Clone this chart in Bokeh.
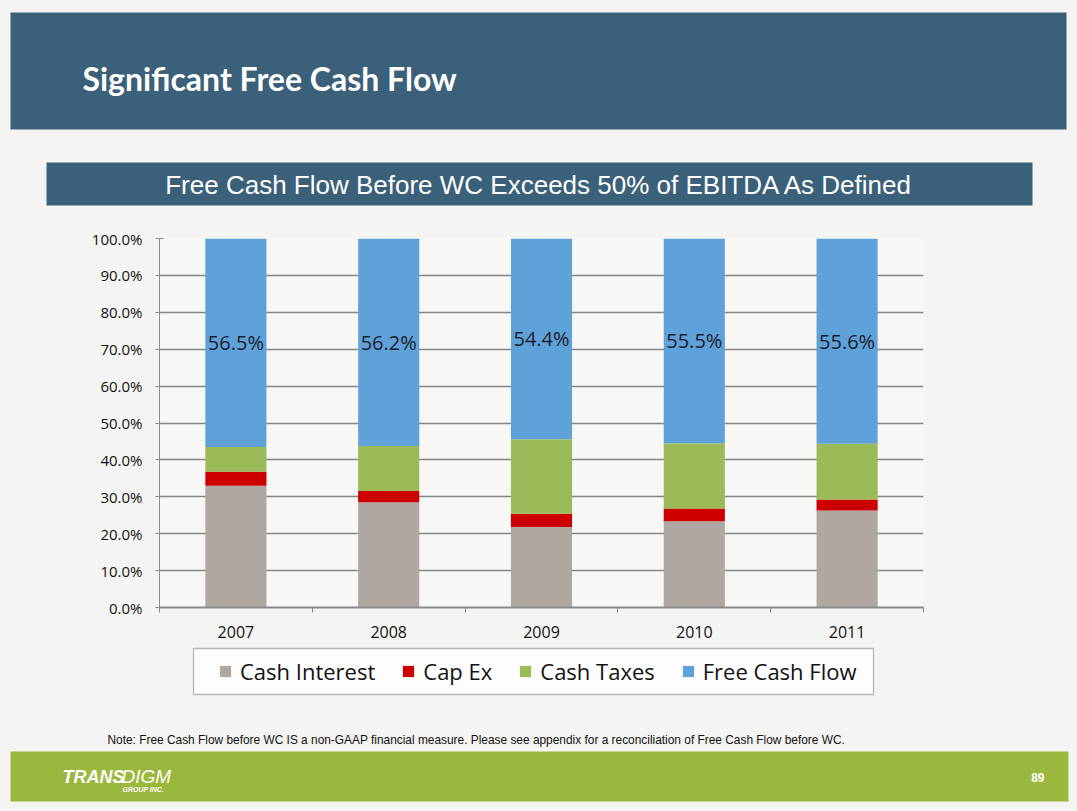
from bokeh.plotting import figure
from bokeh.layouts import column, row
from bokeh.models import (Range1d, FixedTicker, PrintfTickFormatter, BoxAnnotation,
                          Label, Legend, LegendItem, ColumnDataSource, LabelSet)
from bokeh.embed import file_html
from bokeh.resources import INLINE
from bokeh.core.properties import value

# ---------------- data ----------------
years = ["2007", "2008", "2009", "2010", "2011"]
cash_interest = [33.0, 28.5, 21.8, 23.4, 26.3]
cap_ex = [3.8, 3.1, 3.6, 3.4, 3.0]
cash_taxes = [6.7, 12.2, 20.2, 17.7, 15.1]
free_cash_flow = [56.5, 56.2, 54.4, 55.5, 55.6]
series_names = ["Cash Interest", "Cap Ex", "Cash Taxes", "Free Cash Flow"]
y_ticks = [0, 10, 20, 30, 40, 50, 60, 70, 80, 90, 100]

title_text = "Significant Free Cash Flow"
subtitle_text = "Free Cash Flow Before WC Exceeds 50% of EBITDA As Defined"
note_text = ("Note:  Free Cash Flow before WC IS a non-GAAP financial measure. "
             "Please see appendix for a reconciliation of Free Cash Flow before WC.")
page_number = "89"

# ---------------- styles ----------------
colors = ["#afa7a2", "#cc0000", "#9bbb59", "#5fa2da"]
BG = "#f4f4f2"
BANNER = "#3b6079"
GREEN = "#9bb83e"
W, H = 1077, 811
HEAD_H, CHART_H = 218, 425
FOOT_TOP = HEAD_H + CHART_H
FOOT_H = H - FOOT_TOP


def deco_figure(y0, h):
    f = figure(width=W, height=h, x_range=Range1d(0, W), y_range=Range1d(y0 + h, y0),
               output_backend="svg", toolbar_location=None,
               x_axis_location=None, y_axis_location=None,
               min_border=0, min_border_left=0, min_border_right=0,
               min_border_top=0, min_border_bottom=0)
    f.background_fill_color = BG
    f.border_fill_color = BG
    f.outline_line_color = None
    f.grid.visible = False
    return f


def box(f, l, r, t, b, color, line=None):
    f.add_layout(BoxAnnotation(left=l, right=r, top=t, bottom=b, fill_color=color,
                               fill_alpha=1, line_color=line, line_width=1.3,
                               level="underlay"))


def label(f, x, y, text, font, size, color, style="normal", align="left"):
    f.add_layout(Label(x=x, y=y, text=text, text_font=font, text_font_size=size,
                       text_font_style=style, text_color=color, text_baseline="middle",
                       text_align=align))


# ---------------- header ----------------
head = deco_figure(0, HEAD_H)
box(head, 10, 1066, 12, 129, BANNER)
box(head, 46, 1032, 162, 205, BANNER)
label(head, 82, 78, title_text, "Lato", "32px", "white", "bold")
label(head, 539, 184, subtitle_text, "Liberation Sans", "26px", "white", align="center")

# ---------------- chart ----------------
x_pos = [i + 0.5 for i in range(len(years))]
src = ColumnDataSource(dict(x=x_pos, interest=cash_interest, capex=cap_ex,
                            taxes=cash_taxes, fcf=free_cash_flow))
lab_y = [a + b + c + d / 2 for a, b, c, d in zip(cash_interest, cap_ex, cash_taxes, free_cash_flow)]
lab_src = ColumnDataSource(dict(x=x_pos, y=lab_y, t=["%.1f%%" % v for v in free_cash_flow]))

p = figure(width=W, height=CHART_H, x_range=Range1d(0, len(years)), y_range=Range1d(0, 100),
           output_backend="svg", toolbar_location=None,
           min_border_left=159, min_border_right=W - 923, min_border_top=20, min_border_bottom=36)
p.background_fill_color = "#f7f7f6"
p.border_fill_color = BG
p.outline_line_color = None

rs = p.vbar_stack(["interest", "capex", "taxes", "fcf"], x="x", width=0.4, source=src,
                  color=colors, line_color=None)
p.add_layout(LabelSet(x="x", y="y", text="t", source=lab_src, text_align="center",
                      text_baseline="middle", text_font=value("Open Sans"),
                      text_font_size="20px", text_color="#1c1c2c"))

p.yaxis.ticker = FixedTicker(ticks=y_ticks)
p.yaxis.formatter = PrintfTickFormatter(format="%.1f%%")
p.yaxis.axis_line_color = "#8a8a8a"
p.yaxis.major_tick_line_color = "#8a8a8a"
p.yaxis.major_tick_in = 4
p.yaxis.major_tick_out = 4
p.yaxis.minor_tick_line_color = None
p.yaxis.major_label_text_font = "Open Sans"
p.yaxis.major_label_text_font_size = "15px"
p.yaxis.major_label_text_color = "#111111"
p.yaxis.major_label_standoff = 13

p.xaxis.ticker = FixedTicker(ticks=x_pos, minor_ticks=list(range(len(years) + 1)))
p.xaxis.major_label_overrides = {v: y for v, y in zip(x_pos, years)}
p.xaxis.axis_line_color = "#8a8a8a"
p.xaxis.axis_line_width = 2
p.xaxis.major_tick_line_color = None
p.xaxis.major_tick_out = 0
p.xaxis.major_tick_in = 0
p.xaxis.minor_tick_line_color = "#8a8a8a"
p.xaxis.minor_tick_out = 5
p.xaxis.minor_tick_in = 0
p.xaxis.major_label_text_font = "Open Sans"
p.xaxis.major_label_text_font_size = "16px"
p.xaxis.major_label_text_color = "#111111"
p.xaxis.major_label_standoff = 13

p.xgrid.grid_line_color = None
p.ygrid.ticker = FixedTicker(ticks=y_ticks)
p.ygrid.grid_line_color = "#858585"
p.ygrid.grid_line_width = 1.5

# ---------------- footer ----------------
foot = deco_figure(FOOT_TOP, FOOT_H)
box(foot, 193, 873, 648, 694, "#fdfdfd", line="#1e1e1e")
box(foot, 10, 1068, 751, 801, GREEN)
label(foot, 107, 739, note_text, "Liberation Sans", "11.9px", "#111111")
label(foot, 62, 776, "TRANS", "Liberation Sans", "18px", "white", "bold italic")
label(foot, 121, 776, "DIGM", "Liberation Sans", "19px", "white", "italic")
label(foot, 122, 789, "GROUP INC.", "Liberation Sans", "7px", "white", "bold italic")
label(foot, 1044, 777, page_number, "Liberation Sans", "12px", "white", "bold", align="right")

# legend swatches: hidden one-row renderers carrying the series colours
leg_cols = [cash_interest, cap_ex, cash_taxes, free_cash_flow]
legend_rs = []
for c, vals in zip(colors, leg_cols):
    r = foot.vbar(x=x_pos[:1], top=vals[:1], width=0.4, color=c, line_color=None)
    r.visible = False
    legend_rs.append(r)
LEG_H = 30
legend = Legend(items=[LegendItem(label=n, renderers=[r]) for n, r in zip(series_names, legend_rs)],
                orientation="horizontal",
                location=(218, FOOT_H - (671 - FOOT_TOP) - LEG_H // 2))
legend.label_text_font = "Open Sans"
legend.label_text_font_size = "22px"
legend.label_text_color = "#111111"
legend.glyph_width = 14
legend.glyph_height = 14
legend.label_standoff = 8
legend.spacing = 26
legend.padding = 0
legend.margin = 0
legend.label_height = LEG_H
legend.border_line_color = None
legend.background_fill_alpha = 0
legend.inactive_fill_alpha = 0
foot.add_layout(legend, "center")

layout = column(head, row(p), foot, spacing=0)
layout.background = BG

html = file_html(layout, INLINE)
html = html.replace("<body>", '<body style="background:%s">' % BG, 1)
open("out.html", "w").write(html)
